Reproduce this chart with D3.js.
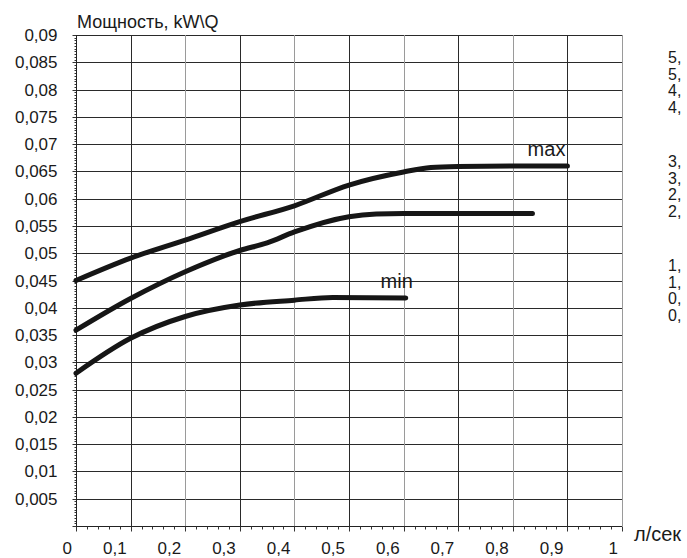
<!DOCTYPE html>
<html>
<head>
<meta charset="utf-8">
<script src="https://cdn.jsdelivr.net/npm/d3@7"></script>
<style>
  body { margin: 0; background: #fff; }
  svg { display: block; font-family: "Liberation Sans", Arial, sans-serif; }
</style>
</head>
<body>
<div id="wrapper"></div>
<script>
// flow, l/s  ->  power, kW\Q
const maxFlow = [0, 0.1, 0.2, 0.3, 0.4, 0.5, 0.6, 0.65, 0.7, 0.8, 0.9];
const maxPower = [0.045, 0.0491, 0.0524, 0.0558, 0.0587, 0.0625, 0.0649, 0.0657, 0.0659, 0.066, 0.066];
const midFlow = [0, 0.1, 0.2, 0.3, 0.35, 0.4, 0.5, 0.55, 0.6, 0.7, 0.836];
const midPower = [0.0359, 0.0417, 0.0466, 0.0505, 0.0519, 0.0539, 0.0567, 0.0572, 0.0573, 0.0573, 0.0573];
const minFlow = [0, 0.1, 0.2, 0.3, 0.4, 0.47, 0.604];
const minPower = [0.028, 0.0344, 0.0384, 0.0405, 0.0414, 0.0419, 0.0418];

const xTicks = [0, 0.1, 0.2, 0.3, 0.4, 0.5, 0.6, 0.7, 0.8, 0.9, 1];
const yTicks = [0.005, 0.01, 0.015, 0.02, 0.025, 0.03, 0.035, 0.04, 0.045, 0.05,
  0.055, 0.06, 0.065, 0.07, 0.075, 0.08, 0.085, 0.09];
// cut-off labels of a second scale on the right
const rightGroups = [["5,", "5,", "4,", "4,"], ["3,", "3,", "2,", "2,"], ["1,", "1,", "0,", "0,"]];

const dimensions = {
  width: 687,
  height: 558,
  margin: { top: 35, right: 65, bottom: 32, left: 76 },
};
dimensions.boundedWidth = dimensions.width - dimensions.margin.left - dimensions.margin.right;
dimensions.boundedHeight = dimensions.height - dimensions.margin.top - dimensions.margin.bottom;

const svg = d3.select("#wrapper").append("svg")
  .attr("width", dimensions.width)
  .attr("height", dimensions.height);

const bounds = svg.append("g")
  .attr("transform", `translate(${dimensions.margin.left},${dimensions.margin.top})`);

const xScale = d3.scaleLinear().domain([0, 1]).range([0, dimensions.boundedWidth]);
const yScale = d3.scaleLinear().domain([0, 0.09]).range([dimensions.boundedHeight, 0]);
const fmt = (d) => String(+d.toFixed(3)).replace(".", ",");

// grid
bounds.append("g").selectAll("line")
  .data(yTicks)
  .join("line")
  .attr("x1", 0).attr("x2", dimensions.boundedWidth)
  .attr("y1", (d) => Math.round(yScale(d)) + 0.5)
  .attr("y2", (d) => Math.round(yScale(d)) + 0.5)
  .attr("stroke", "#2a2a2a");
bounds.append("g").selectAll("line")
  .data(xTicks.slice(1))
  .join("line")
  .attr("x1", (d) => Math.round(xScale(d)) + 0.5)
  .attr("x2", (d) => Math.round(xScale(d)) + 0.5)
  .attr("y1", 0).attr("y2", dimensions.boundedHeight)
  .attr("stroke", (d, i) => (i % 2 ? "#9a9a9a" : "#2a2a2a"));

// y axis with fine minor ticks
const yAxis = bounds.append("g").attr("transform", "translate(0.5,0)");
yAxis.append("g").selectAll("line")
  .data(d3.range(0, 181).map((i) => i * 0.0005))
  .join("line")
  .attr("x1", (d, i) => (i % 10 === 0 ? -4 : -2)).attr("x2", 0)
  .attr("y1", (d) => Math.round(yScale(d)) + 0.5)
  .attr("y2", (d) => Math.round(yScale(d)) + 0.5)
  .attr("stroke", "#333");
yAxis.append("line")
  .attr("y1", 0).attr("y2", dimensions.boundedHeight)
  .attr("stroke", "#222");
yAxis.append("g").selectAll("text")
  .data(yTicks)
  .join("text")
  .attr("x", -19)
  .attr("y", (d) => yScale(d) + 6)
  .attr("text-anchor", "end")
  .attr("font-size", 17)
  .attr("fill", "#1a1a1a")
  .text(fmt);

// x axis with minor ticks
const xAxis = bounds.append("g")
  .attr("transform", `translate(0,${dimensions.boundedHeight + 0.5})`);
xAxis.append("line")
  .attr("x2", dimensions.boundedWidth)
  .attr("stroke", "#222");
xAxis.append("g").selectAll("line")
  .data(d3.range(0, 51).map((i) => i * 0.02))
  .join("line")
  .attr("x1", (d) => Math.round(xScale(d)) + 0.5)
  .attr("x2", (d) => Math.round(xScale(d)) + 0.5)
  .attr("y1", 0)
  .attr("y2", (d, i) => (i % 5 === 0 ? 5 : 3))
  .attr("stroke", "#333");
xAxis.append("g").selectAll("text")
  .data(xTicks)
  .join("text")
  .attr("x", (d) => xScale(d) - 4)
  .attr("y", 27)
  .attr("text-anchor", "end")
  .attr("font-size", 17)
  .attr("fill", "#1a1a1a")
  .text(fmt);
xAxis.append("text")
  .attr("x", dimensions.boundedWidth + 12)
  .attr("y", 14)
  .attr("font-size", 20)
  .attr("fill", "#1a1a1a")
  .text("л/сек");

// title
svg.append("text")
  .attr("x", dimensions.margin.left + 1)
  .attr("y", 28)
  .attr("font-size", 18)
  .attr("fill", "#1a1a1a")
  .text("Мощность, kW\\Q");

// curves
const series = [
  { name: "max", flow: maxFlow, power: maxPower, dx: -2 },
  { name: "", flow: midFlow, power: midPower, dx: 0 },
  { name: "min", flow: minFlow, power: minPower, dx: 7 },
];
const line = d3.line()
  .x((d) => xScale(d[0]))
  .y((d) => yScale(d[1]))
  .curve(d3.curveMonotoneX);
bounds.append("g").selectAll("path")
  .data(series)
  .join("path")
  .attr("d", (s) => line(d3.zip(s.flow, s.power)))
  .attr("fill", "none")
  .attr("stroke", "#161616")
  .attr("stroke-width", 5)
  .attr("stroke-linecap", "round")
  .attr("stroke-linejoin", "round");
bounds.append("g").selectAll("text")
  .data(series.filter((s) => s.name))
  .join("text")
  .attr("x", (s) => xScale(s.flow[s.flow.length - 1]) + s.dx)
  .attr("y", (s) => yScale(s.power[s.power.length - 1]) - 10)
  .attr("text-anchor", "end")
  .attr("font-size", 20)
  .attr("fill", "#1a1a1a")
  .text((s) => s.name);

// right-hand labels
const right = svg.append("g").attr("font-size", 16).attr("fill", "#1a1a1a");
rightGroups.forEach((group, g) => {
  right.append("g").selectAll("text")
    .data(group)
    .join("text")
    .attr("x", 668)
    .attr("y", (d, i) => 63 + g * 104 + i * 16.5)
    .text((d) => d);
});
</script>
</body>
</html>
